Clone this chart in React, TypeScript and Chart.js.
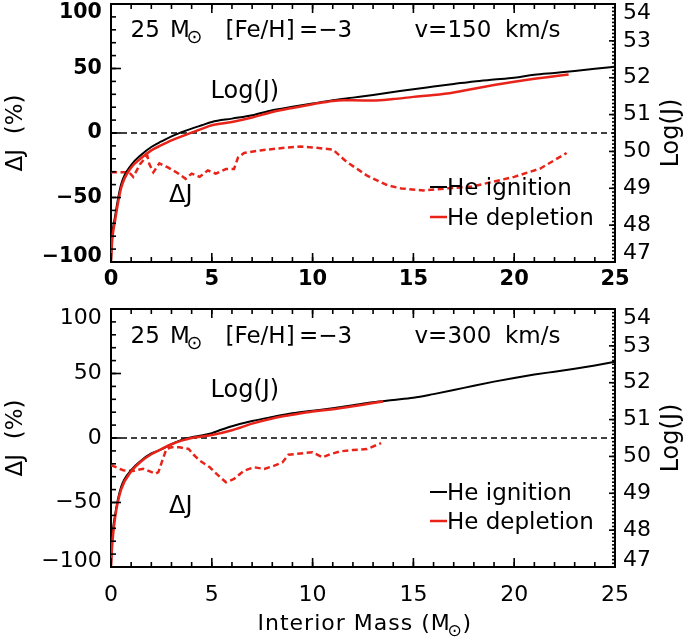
import React, { useEffect, useRef } from "react";
import { Chart, registerables } from "chart.js";

Chart.register(...registerables);

// ---------- data ----------
// Top panel: v = 150 km/s
const TOP_IGN_MASS = [0, 0.05, 0.2, 0.5, 1, 1.5, 2, 2.5, 3, 3.5, 4, 4.5, 5, 6, 7, 8, 9, 10, 11, 12, 13, 14, 15, 16, 17, 18, 19, 20, 21, 22, 23, 24, 25];
const TOP_IGN_LOGJ = [47.0, 47.63, 48.23, 49.1, 49.63, 49.91, 50.12, 50.27, 50.41, 50.52, 50.62, 50.71, 50.8, 50.89, 50.98, 51.12, 51.21, 51.3, 51.39, 51.46, 51.53, 51.61, 51.69, 51.76, 51.83, 51.9, 51.95, 52.0, 52.08, 52.13, 52.18, 52.24, 52.3];
const TOP_DEP_MASS = [0, 0.05, 0.2, 0.5, 1, 1.5, 2, 2.5, 3, 3.5, 4, 4.5, 5, 6, 7, 8, 9, 10, 11, 11.5, 12, 13, 14, 15, 16, 17, 18, 19, 20, 21, 22, 22.7];
const TOP_DEP_LOGJ = [47.0, 47.53, 48.12, 49.0, 49.56, 49.82, 50.03, 50.17, 50.3, 50.41, 50.51, 50.61, 50.71, 50.8, 50.92, 51.07, 51.18, 51.28, 51.37, 51.39, 51.39, 51.38, 51.42, 51.48, 51.53, 51.6, 51.7, 51.8, 51.89, 51.97, 52.04, 52.09];
const TOP_DJ_MASS = [0, 0.9, 1.1, 1.45, 1.8, 1.9, 2.1, 2.4, 2.8, 3.3, 3.7, 4.0, 4.4, 4.8, 5.2, 5.7, 6.1, 6.3, 6.6, 7.4, 8.6, 9.4, 10.2, 11.0, 11.7, 12.7, 13.7, 14.4, 15.5, 16.6, 17.9, 18.9, 20.0, 21.3, 22.6];
const TOP_DJ = [-30.5, -30.5, -34, -24, -17.5, -24, -30.5, -23.5, -26.5, -31, -35.5, -31.5, -34, -29, -31.5, -28, -28, -19, -15.5, -13.5, -11.5, -10.5, -11.5, -12.8, -22.5, -33, -40.5, -43, -44.5, -43, -41.5, -38, -34, -27.5, -15.5];

// Bottom panel: v = 300 km/s
const BOT_IGN_MASS = [0, 0.05, 0.2, 0.5, 1, 1.5, 2, 2.5, 3, 3.5, 4, 4.5, 5, 5.5, 6, 7, 8, 9, 10, 11, 12, 13, 14, 15, 16, 17, 18, 19, 20, 21, 22, 23, 24, 25];
const BOT_IGN_LOGJ = [47.0, 47.7, 48.4, 49.17, 49.63, 49.89, 50.08, 50.19, 50.33, 50.45, 50.52, 50.57, 50.63, 50.73, 50.82, 50.96, 51.07, 51.17, 51.24, 51.31, 51.39, 51.47, 51.53, 51.59, 51.69, 51.8, 51.92, 52.03, 52.13, 52.22, 52.3, 52.38, 52.47, 52.57];
const BOT_DEP_MASS = [0, 0.05, 0.2, 0.5, 1, 1.5, 2, 2.5, 3, 3.5, 4, 4.5, 5, 6, 7, 8, 9, 10, 11, 12, 13, 13.5];
const BOT_DEP_LOGJ = [47.0, 47.53, 48.33, 49.1, 49.59, 49.87, 50.06, 50.2, 50.33, 50.43, 50.5, 50.54, 50.58, 50.71, 50.89, 51.03, 51.13, 51.22, 51.28, 51.36, 51.45, 51.49];
const BOT_DJ_MASS = [0, 0.6, 1.1, 1.6, 2.2, 2.35, 2.6, 2.75, 3.0, 3.4, 3.85, 4.1, 4.4, 4.9, 5.25, 5.7, 6.1, 6.6, 7.1, 7.6, 8.1, 8.5, 8.8, 9.4, 10.0, 10.5, 10.9, 11.4, 12.0, 12.7, 13.4];
const BOT_DJ = [-21, -25, -25.5, -23.8, -27.7, -26.5, -15, -8.5, -7.2, -7.2, -8.5, -13, -17.5, -22.7, -28, -34.3, -31.8, -25.3, -22.7, -24, -21.4, -19, -13, -12, -11, -15, -12.4, -10.3, -9.3, -8.5, -4];

// reference line and axis ranges
const ZERO_LINE_MASS = [0, 25];
const ZERO_LINE_DJ = [0, 0];
const MASS_RANGE = [0, 25];
const DJ_RANGE = [-100, 100];
const LOGJ_RANGE = [47, 54];

const RED = "rgb(232,36,26)";
const FAMILY = "'DejaVu Sans', sans-serif";

const fmt = (v: number) => (v < 0 ? "\u2212" + Math.abs(v) : String(v));

type Txt = { t: string; x: number; y: number; s: number };
type Spec = {
  height: number;
  padTop: number;
  bottomH: number;
  boldTicks: boolean;
  xLabelPad: number;
  shifts: { l100: number; lm100: number; r54: number; r47: number };
  ign: [number[], number[]];
  dep: [number[], number[]];
  dj: [number[], number[]];
  texts: Txt[];
  legendLineY: [number, number];
  xTitleY?: number;
};

const TOP_SPEC: Spec = {
  height: 300,
  padTop: 4,
  bottomH: 38,
  boldTicks: true,
  xLabelPad: 5.4,
  shifts: { l100: 9, lm100: 5.3, r54: 9.3, r47: 9 },
  ign: [TOP_IGN_MASS, TOP_IGN_LOGJ],
  dep: [TOP_DEP_MASS, TOP_DEP_LOGJ],
  dj: [TOP_DJ_MASS, TOP_DJ],
  texts: [
    { t: "25", x: 130.5, y: 36.7, s: 23 },
    { t: "M", x: 170, y: 36.7, s: 23 },
    { t: "\u2299", x: 186.5, y: 42.5, s: 19 },
    { t: "[Fe/H]", x: 225.5, y: 36.7, s: 23 },
    { t: "=\u22123", x: 299, y: 36.7, s: 23 },
    { t: "v=150", x: 414.5, y: 36.7, s: 23 },
    { t: "km/s", x: 505, y: 36.7, s: 23 },
    { t: "Log(J)", x: 210.5, y: 98.3, s: 24 },
    { t: "\u0394J", x: 169, y: 201.7, s: 24 },
    { t: "He ignition", x: 447, y: 195, s: 23 },
    { t: "He depletion", x: 447, y: 225, s: 23 },
  ],
  legendLineY: [187, 217],
};

const BOT_SPEC: Spec = {
  height: 337,
  padTop: 9,
  bottomH: 70,
  boldTicks: false,
  xLabelPad: 14.8,
  shifts: { l100: 9.3, lm100: 5.3, r54: 9, r47: 7 },
  ign: [BOT_IGN_MASS, BOT_IGN_LOGJ],
  dep: [BOT_DEP_MASS, BOT_DEP_LOGJ],
  dj: [BOT_DJ_MASS, BOT_DJ],
  texts: [
    { t: "25", x: 130.5, y: 43.3, s: 23 },
    { t: "M", x: 170, y: 43.3, s: 23 },
    { t: "\u2299", x: 186.5, y: 49.1, s: 19 },
    { t: "[Fe/H]", x: 225.5, y: 43.3, s: 23 },
    { t: "=\u22123", x: 299, y: 43.3, s: 23 },
    { t: "v=300", x: 414.5, y: 43.3, s: 23 },
    { t: "km/s", x: 505, y: 43.3, s: 23 },
    { t: "Log(J)", x: 210.5, y: 97, s: 24 },
    { t: "\u0394J", x: 169, y: 213.3, s: 24 },
    { t: "He ignition", x: 447, y: 200, s: 23 },
    { t: "He depletion", x: 447, y: 229, s: 23 },
  ],
  legendLineY: [192, 221],
  xTitleY: 330,
};

// inward tick marks: [scale id, side, length]
const TICK_MARKS: [string, string, number][] = [
  ["x", "bottom", 9],
  ["xMinor", "bottom", 5],
  ["xTop", "top", 9],
  ["xTopMinor", "top", 5],
  ["y", "left", 10],
  ["yMinor", "left", 5],
  ["yR", "right", 6],
  ["yRMinor", "right", 3],
];

function makeChart(canvas: HTMLCanvasElement, spec: Spec) {
  const pts = (xs: number[], ys: number[]) => xs.map((x, i) => ({ x, y: ys[i] }));
  const fixH = (h: number) => (s: any) => {
    s.height = h;
    s.paddingLeft = 0;
    s.paddingRight = 0;
    s.paddingTop = 0;
    s.paddingBottom = 0;
  };
  const fixW = (w: number) => (s: any) => {
    s.width = w;
    s.paddingLeft = 0;
    s.paddingRight = 0;
    s.paddingTop = 0;
    s.paddingBottom = 0;
  };
  const noGrid = { display: false, drawTicks: false, drawOnChartArea: false };
  const frame = { display: true, color: "#000", width: 2 };
  const noBorder = { display: false };
  const edgeFont = (size: number, weight: string, maxV: number, minV: number, up: number, down: number) => (c: any) => {
    const v = c && c.tick ? c.tick.value : undefined;
    let lh: any = 1.2;
    if (v === maxV) lh = `${2 * up}px`;
    else if (v === minV) lh = `${2 * down}px`;
    return { family: FAMILY, size, weight, lineHeight: lh };
  };
  const edgeLabel = (maxV: number, minV: number) => (v: any) => {
    const s = fmt(Number(v));
    if (v === maxV) return ["", s];
    if (v === minV) return [s, ""];
    return s;
  };
  const tickW = spec.boldTicks ? "bold" : "normal";
  const tickS = spec.boldTicks ? 20.5 : 22;

  const drawTickMarks = (chart: any) => {
    const ctx = chart.ctx as CanvasRenderingContext2D;
    const a = chart.chartArea;
    ctx.save();
    ctx.setLineDash([]);
    ctx.globalAlpha = 1;
    ctx.strokeStyle = "#000000";
    ctx.lineWidth = 1.6;
    for (const item of TICK_MARKS) {
      const id = item[0];
      const side = item[1];
      const len = item[2];
      const sc = chart.scales[id];
      if (!sc || !sc.ticks) continue;
      for (let i = 0; i < sc.ticks.length; i++) {
        const p = sc.getPixelForValue(sc.ticks[i].value);
        ctx.beginPath();
        if (side === "bottom") {
          ctx.moveTo(p, a.bottom);
          ctx.lineTo(p, a.bottom - len);
        } else if (side === "top") {
          ctx.moveTo(p, a.top);
          ctx.lineTo(p, a.top + len);
        } else if (side === "left") {
          ctx.moveTo(a.left, p);
          ctx.lineTo(a.left + len, p);
        } else {
          ctx.moveTo(a.right, p);
          ctx.lineTo(a.right - len, p);
        }
        ctx.stroke();
      }
    }
    ctx.restore();
  };

  const annot = {
    id: "annot",
    afterDraw(chart: any) {
      drawTickMarks(chart);
      const ctx = chart.ctx as CanvasRenderingContext2D;
      const area = chart.chartArea;
      ctx.save();
      ctx.fillStyle = "#000";
      ctx.textAlign = "left";
      ctx.textBaseline = "alphabetic";
      for (const t of spec.texts) {
        ctx.font = `${t.s}px ${FAMILY}`;
        ctx.fillText(t.t, t.x, t.y);
      }
      // legend line samples
      ctx.lineCap = "butt";
      ctx.strokeStyle = "#000";
      ctx.lineWidth = 2;
      ctx.beginPath();
      ctx.moveTo(430, spec.legendLineY[0]);
      ctx.lineTo(447, spec.legendLineY[0]);
      ctx.stroke();
      ctx.strokeStyle = RED;
      ctx.lineWidth = 2.5;
      ctx.beginPath();
      ctx.moveTo(430, spec.legendLineY[1]);
      ctx.lineTo(447, spec.legendLineY[1]);
      ctx.stroke();
      // right axis title (reads bottom-to-top)
      ctx.save();
      ctx.translate(672, (area.top + area.bottom) / 2);
      ctx.rotate(-Math.PI / 2);
      ctx.textAlign = "center";
      ctx.textBaseline = "middle";
      ctx.font = `24px ${FAMILY}`;
      ctx.fillText("Log(J)", 0, 0);
      ctx.restore();
      // x-axis title with subscript
      if (spec.xTitleY !== undefined) {
        const y = spec.xTitleY;
        ctx.font = `22px ${FAMILY}`;
        (ctx as any).letterSpacing = "1px";
        ctx.fillText("Interior Mass (M", 257.5, y);
        (ctx as any).letterSpacing = "0px";
        ctx.font = `17px ${FAMILY}`;
        ctx.fillText("\u2299", 447.5, y + 5.5);
        ctx.font = `22px ${FAMILY}`;
        ctx.fillText(")", 462.5, y);
      }
      ctx.restore();
    },
  };

  const linScale = (axis: string, position: string, range: number[], weight: number, extra: any) => ({
    type: "linear",
    axis,
    position,
    min: range[0],
    max: range[1],
    weight,
    grid: noGrid,
    ...extra,
  });

  return new Chart(canvas, {
    type: "line",
    data: {
      datasets: [
        {
          label: "He depletion",
          data: pts(spec.dep[0], spec.dep[1]),
          yAxisID: "yR",
          borderColor: RED,
          borderWidth: 2.5,
          pointRadius: 0,
          cubicInterpolationMode: "monotone",
          fill: false,
        },
        {
          label: "He ignition",
          data: pts(spec.ign[0], spec.ign[1]),
          yAxisID: "yR",
          borderColor: "#000",
          borderWidth: 2,
          pointRadius: 0,
          cubicInterpolationMode: "monotone",
          fill: false,
        },
        {
          label: "\u0394J",
          data: pts(spec.dj[0], spec.dj[1]),
          yAxisID: "y",
          borderColor: RED,
          borderWidth: 2.5,
          borderDash: [6, 3.5],
          pointRadius: 0,
          tension: 0,
          fill: false,
        },
        {
          label: "zero",
          data: pts(ZERO_LINE_MASS, ZERO_LINE_DJ),
          yAxisID: "y",
          borderColor: "#000",
          borderWidth: 1.4,
          borderDash: [6, 4],
          pointRadius: 0,
          fill: false,
        },
      ],
    },
    options: {
      animation: false,
      responsive: false,
      devicePixelRatio: 1,
      events: [],
      layout: { padding: { top: spec.padTop, left: 0, right: 0, bottom: 0 } },
      plugins: { legend: { display: false }, tooltip: { enabled: false } },
      scales: {
        x: linScale("x", "bottom", MASS_RANGE, 10, {
          border: frame,
          ticks: {
            stepSize: 5,
            autoSkip: false,
            maxRotation: 0,
            color: "#000",
            padding: spec.xLabelPad,
            font: { family: FAMILY, size: spec.boldTicks ? 21 : 22, weight: tickW },
            callback: (v: any) => fmt(Number(v)),
          },
          afterFit: fixH(spec.bottomH),
        }),
        xMinor: linScale("x", "bottom", MASS_RANGE, 0, {
          border: noBorder,
          ticks: { stepSize: 1, display: false },
          afterFit: fixH(0),
        }),
        xTop: linScale("x", "top", MASS_RANGE, 10, {
          border: frame,
          ticks: { stepSize: 5, display: false },
          afterFit: fixH(0),
        }),
        xTopMinor: linScale("x", "top", MASS_RANGE, 0, {
          border: noBorder,
          ticks: { stepSize: 1, display: false },
          afterFit: fixH(0),
        }),
        y: linScale("y", "left", DJ_RANGE, 10, {
          border: frame,
          ticks: {
            stepSize: 50,
            autoSkip: false,
            color: "#000",
            padding: 9.3,
            font: edgeFont(tickS, tickW, DJ_RANGE[1], DJ_RANGE[0], spec.shifts.l100, spec.shifts.lm100),
            callback: edgeLabel(DJ_RANGE[1], DJ_RANGE[0]),
          },
          title: {
            display: true,
            text: "\u0394J  (%)",
            color: "#000",
            font: { family: FAMILY, size: 23 },
            padding: { top: 2, bottom: 0 },
          },
          afterFit: fixW(111),
        }),
        yMinor: linScale("y", "left", DJ_RANGE, 0, {
          border: noBorder,
          ticks: { stepSize: 10, display: false },
          afterFit: fixW(0),
        }),
        yR: linScale("y", "right", LOGJ_RANGE, 10, {
          border: frame,
          ticks: {
            stepSize: 1,
            autoSkip: false,
            color: "#000",
            padding: 8,
            font: edgeFont(22, "normal", LOGJ_RANGE[1], LOGJ_RANGE[0], spec.shifts.r54, spec.shifts.r47),
            callback: edgeLabel(LOGJ_RANGE[1], LOGJ_RANGE[0]),
          },
          afterFit: fixW(70),
        }),
        yRMinor: linScale("y", "right", LOGJ_RANGE, 0, {
          border: noBorder,
          ticks: { stepSize: 0.1, display: false },
          afterFit: fixW(0),
        }),
      },
    } as any,
    plugins: [annot],
  } as any);
}

function Panel({ spec }: { spec: Spec }) {
  const ref = useRef<HTMLCanvasElement | null>(null);
  useEffect(() => {
    if (!ref.current) return;
    const chart = makeChart(ref.current, spec);
    return () => chart.destroy();
  }, [spec]);
  return <canvas ref={ref} width={685} height={spec.height} style={{ display: "block", width: 685, height: spec.height }} />;
}

export default function App() {
  return (
    <div style={{ position: "absolute", left: 0, top: 0, width: 685, height: 637, background: "#fff" }}>
      <Panel spec={TOP_SPEC} />
      <Panel spec={BOT_SPEC} />
    </div>
  );
}
